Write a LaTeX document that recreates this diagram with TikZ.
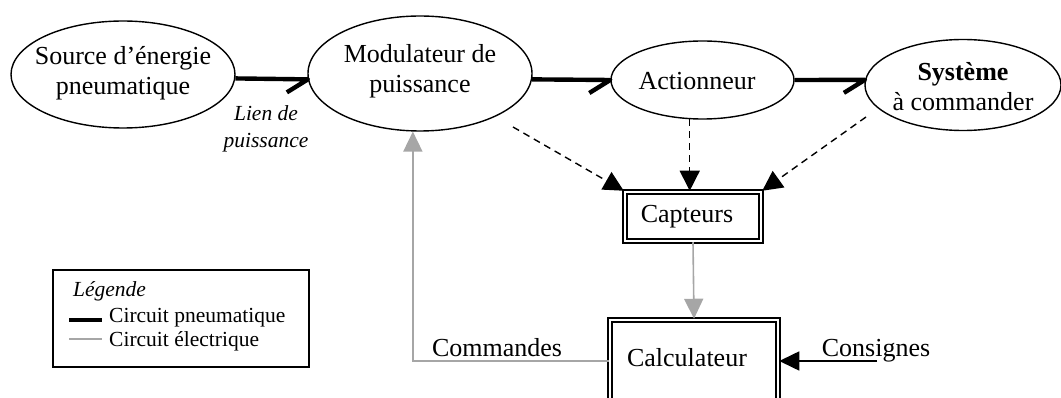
\documentclass[tikz,border=0pt]{standalone}
\usepackage{fontspec}
\setmainfont{Liberation Serif}
\usetikzlibrary{arrows.meta,calc,shapes.geometric}
\definecolor{elecgray}{RGB}{166,166,166}
\begin{document}
\begin{tikzpicture}[x=1pt,y=-1pt,
  ell/.style={draw, ellipse, line width=1.4pt, inner sep=0pt},
  lbl/.style={font=\fontsize{26}{30}\selectfont, align=center, inner sep=0pt},
  small/.style={font=\fontsize{21.5}{27}\selectfont, inner sep=0pt},
  pneu/.style={line width=4.4pt, line join=round},
  dsh/.style={line width=1.4pt, dash pattern=on 7pt off 5pt, -{Triangle[length=20pt,width=20pt]}},
  elec/.style={draw=elecgray, line width=1.6pt},
  earrow/.style={elec, -{Triangle[length=20pt,width=19pt]}},
  barrow/.style={line width=1.6pt, -{Triangle[length=20pt,width=19pt]}},
  dbox/.style={draw, double, double distance=1.5pt, line width=2.5pt, rectangle, inner sep=0pt}
]
\useasboundingbox (0,0) rectangle (1061,398);

% ellipses
\node[ell, minimum width=224, minimum height=107] (src) at (123,74.5) {};
\node[ell, minimum width=224, minimum height=115] (mod) at (420,73.5) {};
\node[ell, minimum width=183, minimum height=78] (act) at (702.5,80) {};
\node[ell, minimum width=196, minimum height=91] (sys) at (963,85) {};
\node[lbl] (srcT) at (123,73) {Source d’énergie\\pneumatique};
\node[lbl] (modT) at (420,71) {Modulateur de\\puissance};
\node[lbl] (actT) at (697,81) {Actionneur};
\node[lbl] (sysT) at (963,87) {\textbf{Système}\\à commander};

% boxes
\node[dbox, minimum width=136, minimum height=49] (capt) at (693,216.5) {};
\node[lbl] (captT) at (687,217) {Capteurs};
\node[dbox, minimum width=168, minimum height=82] (calc) at (694,361) {};
\node[lbl] (calcT) at (687,358) {Calculateur};

% pneumatic links
\draw[pneu] (src.-2.8) -- (mod.183.3) -- ++(-21,13);
\draw[pneu] (mod.-3.3) -- (act.west) -- ++(-21,13);
\draw[pneu] (act.east) -- (sys.177.1) -- ++(-21,13);
\node[small, font=\fontsize{21.5}{27}\selectfont\itshape, align=center] (lien) at (266,129) {Lien de\\puissance};

% sensor links
\coordinate (d1) at (513,127);
\coordinate (d3) at (866,117);
\draw[dsh] (d1) -- (capt.north west);
\draw[dsh] (act.-108) -- (act.-108 |- capt.north);
\draw[dsh] (d3) -- (capt.north east);

% electrical
\draw[earrow] (capt.south) -- (calc.north);
\draw[earrow] (calc.west) -| (mod.-97);
\node[lbl, anchor=base] (cmdT) at (497,356) {Commandes};

% consignes
\coordinate (cons) at (877,361);
\draw[barrow] (cons) -- (calc.east);
\node[lbl, anchor=base] (consT) at (876,356) {Consignes};

% legend
\node[draw, line width=1.3pt, minimum width=256, minimum height=97, inner sep=0pt] (leg) at (181,318.5) {};
\node[small, anchor=base west, font=\fontsize{21.5}{27}\selectfont\itshape] (legT) at (73,297) {Légende};
\coordinate (p1) at (69,320);
\coordinate (p2) at (102,320);
\coordinate (e1) at (69,339);
\coordinate (e2) at (102,339);
\draw[line width=4pt] (p1) -- (p2);
\draw[elec] (e1) -- (e2);
\node[small, anchor=base west] (legP) at (109,323) {Circuit pneumatique};
\node[small, anchor=base west] (legE) at (109,346) {Circuit électrique};
\end{tikzpicture}
\end{document}
